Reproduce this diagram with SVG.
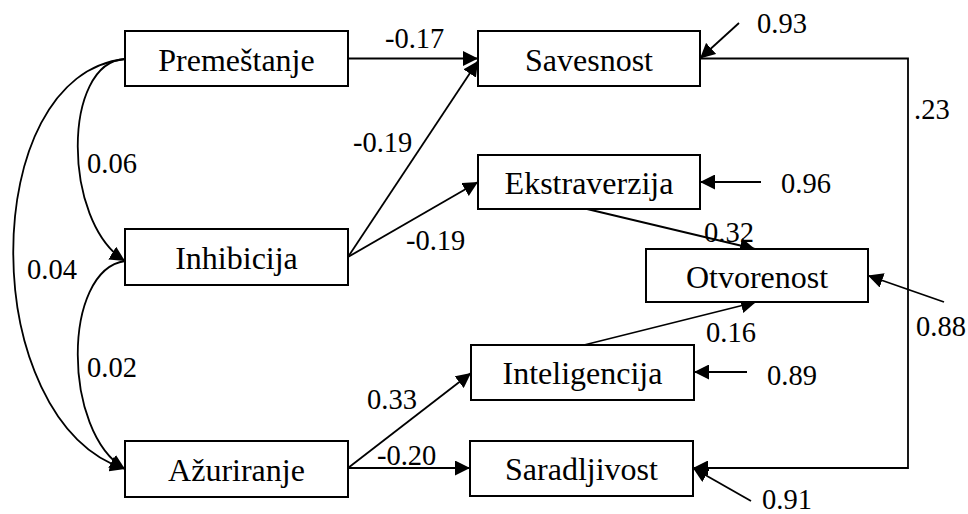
<svg xmlns="http://www.w3.org/2000/svg" width="968" height="514" viewBox="0 0 968 514">
  <defs>
    <marker id="arrow" markerUnits="userSpaceOnUse" markerWidth="15" markerHeight="15" refX="15" refY="7.5" orient="auto">
      <path d="M0,0 L15,7.5 L0,15 z" fill="#000"/>
    </marker>
    <style>
      .box { fill: #fff; stroke: #000; stroke-width: 2; }
      .name { font-size: 32px; text-anchor: middle; fill: #000; }
      .lbl { font-size: 28.5px; fill: #000; }
      .edge { fill: none; stroke: #000; stroke-width: 1.8; marker-end: url(#arrow); }
    </style>
  </defs>
  <rect width="968" height="514" fill="#fff"/>

  <g id="connectors">
    <!-- covariances among predictors -->
    <path class="edge" d="M125,59 C62,62 62,222 125,261"/>
    <path class="edge" d="M125,59 C-24,75 -24,420 125,469"/>
    <path class="edge" d="M125,261 C62,270 62,432 125,469"/>
    <!-- paths -->
    <path class="edge" d="M348,58.5 L478,58.5"/>
    <path class="edge" d="M348,257 L478,61"/>
    <path class="edge" d="M348,257 L478,182"/>
    <path class="edge" d="M587,209 L755,249"/>
    <path class="edge" d="M584,345 L756,302"/>
    <path class="edge" d="M348,468 L471,373"/>
    <path class="edge" d="M348,468 L470,468"/>
    <path class="edge" d="M700,58.5 L908,58.5 L908,468 L693,468"/>
    <!-- residual terms -->
    <path class="edge" d="M739,23 L700,58.5"/>
    <path class="edge" d="M761,182 L700,182"/>
    <path class="edge" d="M944,302 L868,275.5"/>
    <path class="edge" d="M747,372 L694,372"/>
    <path class="edge" d="M751,501 L693,468"/>
  </g>

  <g id="labels" font-family="'Liberation Serif', Tinos, 'Times New Roman', 'DejaVu Serif', serif">
    <text class="lbl" x="385" y="48">-0.17</text>
    <text class="lbl" x="353" y="152">-0.19</text>
    <text class="lbl" x="406" y="250">-0.19</text>
    <text class="lbl" x="87" y="173">0.06</text>
    <text class="lbl" x="27" y="279">0.04</text>
    <text class="lbl" x="87" y="377">0.02</text>
    <text class="lbl" x="367" y="409">0.33</text>
    <text class="lbl" x="377" y="465">-0.20</text>
    <text class="lbl" x="704" y="242">0.32</text>
    <text class="lbl" x="706" y="342">0.16</text>
    <text class="lbl" x="914" y="119">.23</text>
    <text class="lbl" x="757" y="33">0.93</text>
    <text class="lbl" x="781" y="193">0.96</text>
    <text class="lbl" x="916" y="336">0.88</text>
    <text class="lbl" x="767" y="385">0.89</text>
    <text class="lbl" x="762" y="509">0.91</text>
  </g>

  <g id="nodes" font-family="'Liberation Serif', Tinos, 'Times New Roman', 'DejaVu Serif', serif">
    <g id="premestanje">
      <rect class="box" x="125" y="31" width="223" height="55"/>
      <text class="name" x="236.5" y="70.5">Premeštanje</text>
    </g>
    <g id="inhibicija">
      <rect class="box" x="125" y="229" width="223" height="56"/>
      <text class="name" x="236.5" y="269">Inhibicija</text>
    </g>
    <g id="azuriranje">
      <rect class="box" x="125" y="441" width="223" height="56"/>
      <text class="name" x="236.5" y="481">Ažuriranje</text>
    </g>
    <g id="savesnost">
      <rect class="box" x="478" y="31" width="222" height="55"/>
      <text class="name" x="589" y="70.5">Savesnost</text>
    </g>
    <g id="ekstraverzija">
      <rect class="box" x="478" y="155" width="222" height="54"/>
      <text class="name" x="589" y="193.5">Ekstraverzija</text>
    </g>
    <g id="otvorenost">
      <rect class="box" x="646" y="249" width="222" height="53"/>
      <text class="name" x="757" y="288">Otvorenost</text>
    </g>
    <g id="inteligencija">
      <rect class="box" x="471" y="345" width="223" height="55"/>
      <text class="name" x="582.5" y="384">Inteligencija</text>
    </g>
    <g id="saradljivost">
      <rect class="box" x="470" y="441" width="223" height="55"/>
      <text class="name" x="581.5" y="480">Saradljivost</text>
    </g>
  </g>
</svg>
